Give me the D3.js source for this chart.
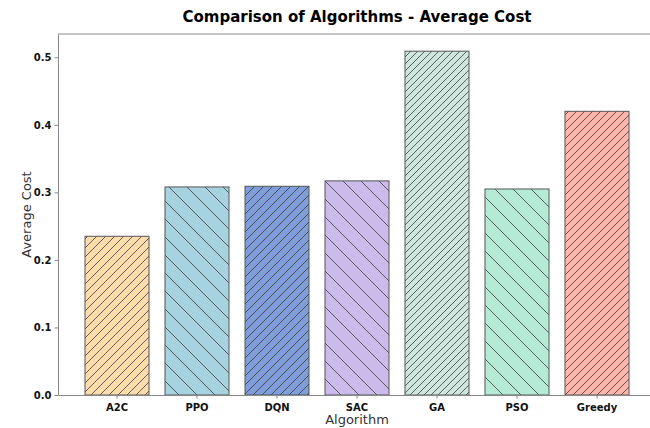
<!DOCTYPE html>
<html>
<head>
<meta charset="utf-8">
<script src="https://cdn.jsdelivr.net/npm/d3@7"></script>
<style>
  body { margin: 0; background: #fff; }
  text { font-family: "DejaVu Sans", sans-serif; }
</style>
</head>
<body>
<div id="chart"></div>
<script>
// data
const algorithms = ["A2C", "PPO", "DQN", "SAC", "GA", "PSO", "Greedy"];
const avgCost = [0.235, 0.308, 0.309, 0.317, 0.509, 0.305, 0.420];
const barColors = ["#fcdcab", "#a7d2df", "#7f9dd8", "#cbbbeb", "#cde7df", "#b5ebd6", "#ffb4ac"];
const hatches = ["/", "\\", "/", "\\", "/", "\\", "/"];
const hatchGap = [9, 18, 9, 18, 7, 18, 8];
const yTicks = [0.0, 0.1, 0.2, 0.3, 0.4, 0.5];

const width = 650;
const height = 428;
const margin = { top: 34, right: -6, bottom: 33, left: 58 };

const svg = d3.select('#chart').append('svg')
  .attr('width', width)
  .attr('height', height);

const x = d3.scaleBand()
  .domain(algorithms)
  .range([margin.left, width - margin.right])
  .paddingInner(0.2)
  .paddingOuter(0.3375);

const y = d3.scaleLinear()
  .domain([0, d3.max(avgCost) * 1.05])
  .range([height - margin.bottom, margin.top]);

// hatch patterns, one per bar
const defs = svg.append('defs');
algorithms.forEach((a, i) => {
  const s = hatchGap[i];
  const p = defs.append('pattern')
    .attr('id', 'hatch' + i)
    .attr('patternUnits', 'userSpaceOnUse')
    .attr('width', s)
    .attr('height', s);
  p.append('rect').attr('width', s).attr('height', s).attr('fill', barColors[i]);
  const d = hatches[i] == "/"
    ? `M0,${s} L${s},0 M${-s/2},${s/2} L${s/2},${-s/2} M${s/2},${s*1.5} L${s*1.5},${s/2}`
    : `M0,0 L${s},${s} M${-s/2},${s/2} L${s/2},${s*1.5} M${s/2},${-s/2} L${s*1.5},${s/2}`;
  p.append('path')
    .attr('d', d)
    .attr('stroke', '#333')
    .attr('stroke-opacity', 0.75)
    .attr('stroke-width', 1);
});

// bars
svg.selectAll('.bar')
  .data(algorithms)
  .enter().append('rect')
  .attr('class', 'bar')
  .attr('x', d => x(d))
  .attr('y', (d, i) => y(avgCost[i]))
  .attr('width', x.bandwidth())
  .attr('height', (d, i) => y(0) - y(avgCost[i]))
  .attr('fill', (d, i) => `url(#hatch${i})`)
  .attr('stroke', '#555')
  .attr('stroke-width', 1);

// axes
const xAxis = svg.append('g')
  .attr('transform', `translate(0,${height - margin.bottom})`)
  .call(d3.axisBottom(x).tickSize(3.5).tickSizeOuter(0));
xAxis.select('.domain').attr('stroke', '#888');
xAxis.selectAll('.tick line').attr('stroke', '#888');
xAxis.selectAll('.tick text')
  .attr('dy', '0.95em')
  .style('font-size', '10px')
  .style('font-weight', 'bold')
  .attr('fill', '#111');

const yAxis = svg.append('g')
  .attr('transform', `translate(${margin.left},0)`)
  .call(d3.axisLeft(y).tickValues(yTicks).tickFormat(d3.format('.1f')).tickSize(3.5).tickSizeOuter(0));
yAxis.select('.domain').attr('stroke', '#888');
yAxis.selectAll('.tick line').attr('stroke', '#888');
yAxis.selectAll('.tick text')
  .style('font-size', '10px')
  .style('font-weight', 'bold')
  .attr('fill', '#111');

// top spine
svg.append('line')
  .attr('x1', margin.left).attr('x2', width)
  .attr('y1', margin.top).attr('y2', margin.top)
  .attr('stroke', '#888');

// labels
svg.append('text')
  .attr('x', 357)
  .attr('y', 22)
  .attr('text-anchor', 'middle')
  .style('font-size', '15px')
  .style('font-weight', 'bold')
  .text('Comparison of Algorithms - Average Cost');

svg.append('text')
  .attr('x', 357)
  .attr('y', 424)
  .attr('text-anchor', 'middle')
  .style('font-size', '13px')
  .attr('fill', '#333')
  .text('Algorithm');

svg.append('text')
  .attr('transform', 'translate(31,' + (margin.top + height - margin.bottom) / 2 + ') rotate(-90)')
  .attr('text-anchor', 'middle')
  .style('font-size', '13px')
  .attr('fill', '#333')
  .text('Average Cost');
</script>
</body>
</html>
